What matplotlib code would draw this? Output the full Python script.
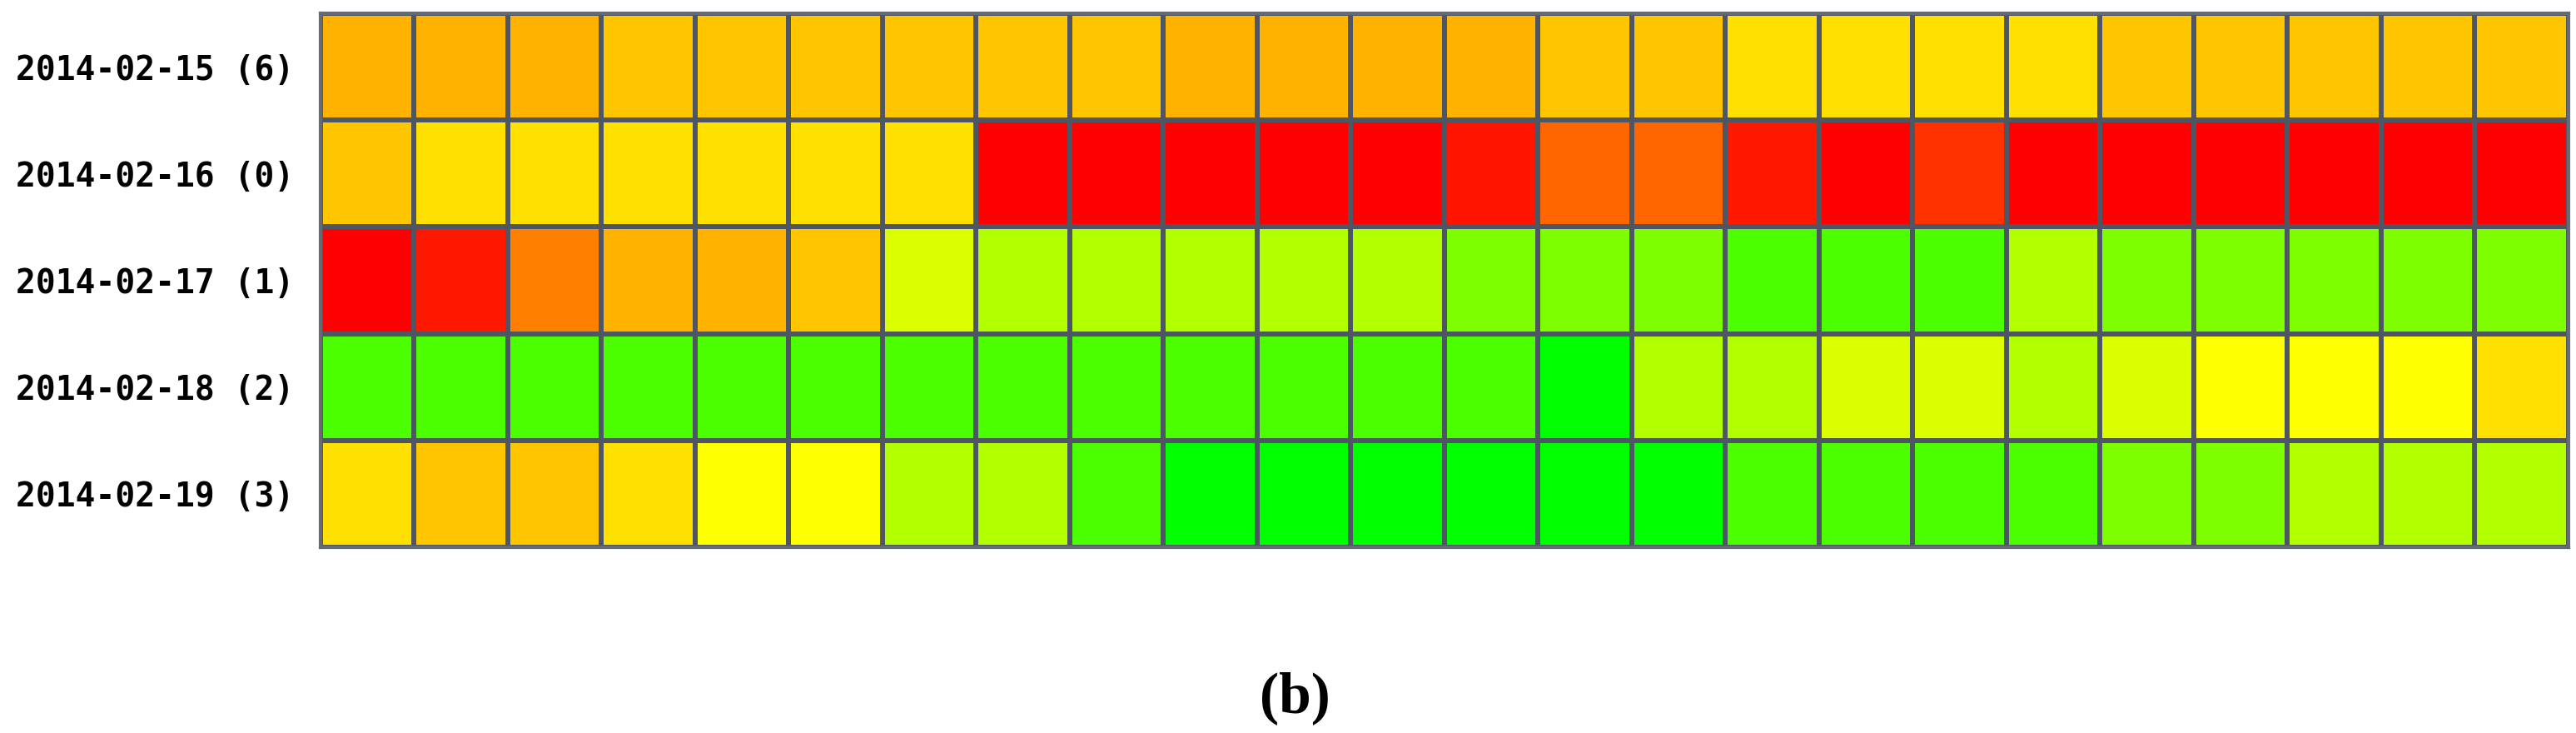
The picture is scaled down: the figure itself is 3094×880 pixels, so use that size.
import matplotlib
matplotlib.use("Agg")
import matplotlib.pyplot as plt
import numpy as np
from matplotlib.colors import LinearSegmentedColormap

# Row labels (days) and per-hour scores, 0 = worst (red), 100 = best (green)
days = ["2014-02-15 (6)", "2014-02-16 (0)", "2014-02-17 (1)",
        "2014-02-18 (2)", "2014-02-19 (3)"]

day_15 = [35, 35, 35, 39, 39, 39, 39, 39, 39, 35, 35, 35, 35, 39, 39, 44, 44, 44, 44, 39, 39, 39, 39, 39]
day_16 = [39, 44, 44, 44, 44, 44, 44, 0, 0, 0, 0, 0, 4, 20, 20, 5, 0, 10, 0, 0, 0, 0, 0, 0]
day_17 = [0, 5, 25, 35, 35, 39, 57, 65, 65, 65, 65, 65, 75, 75, 75, 85, 85, 85, 65, 75, 75, 75, 75, 75]
day_18 = [85, 85, 85, 85, 85, 85, 85, 85, 85, 85, 85, 85, 85, 100, 65, 65, 57, 57, 65, 57, 50, 50, 50, 44]
day_19 = [44, 39, 39, 44, 50, 50, 65, 65, 85, 100, 100, 100, 100, 100, 100, 85, 85, 85, 85, 75, 75, 65, 65, 65]

scores = np.array([day_15, day_16, day_17, day_18, day_19])

cmap = LinearSegmentedColormap.from_list("ryg", ["#ff0000", "#ffff00", "#00ff00"])

fig = plt.figure(figsize=(30.94, 8.8), dpi=100)
ax = fig.add_axes([0.1244, 0.2534, 0.8726, 0.7284])

ax.pcolormesh(scores, cmap=cmap, vmin=0, vmax=100,
              edgecolors="#4e5664", linewidth=3.0)
ax.set_xlim(0, scores.shape[1])
ax.set_ylim(scores.shape[0], 0)

ax.set_xticks([])
ax.set_yticks(np.arange(len(days)) + 0.5)
ax.set_yticklabels(days, family="DejaVu Sans Mono", fontweight="semibold", fontsize=28.5)
ax.tick_params(axis="y", length=0, pad=23)

for s in ax.spines.values():
    s.set_color("#666a72")
    s.set_linewidth(3.0)

fig.text(0.5026, 0.048, "(b)", ha="center", va="center",
         family="Liberation Serif", fontweight="bold", fontsize=50)

fig.savefig("out.png", dpi=100)
